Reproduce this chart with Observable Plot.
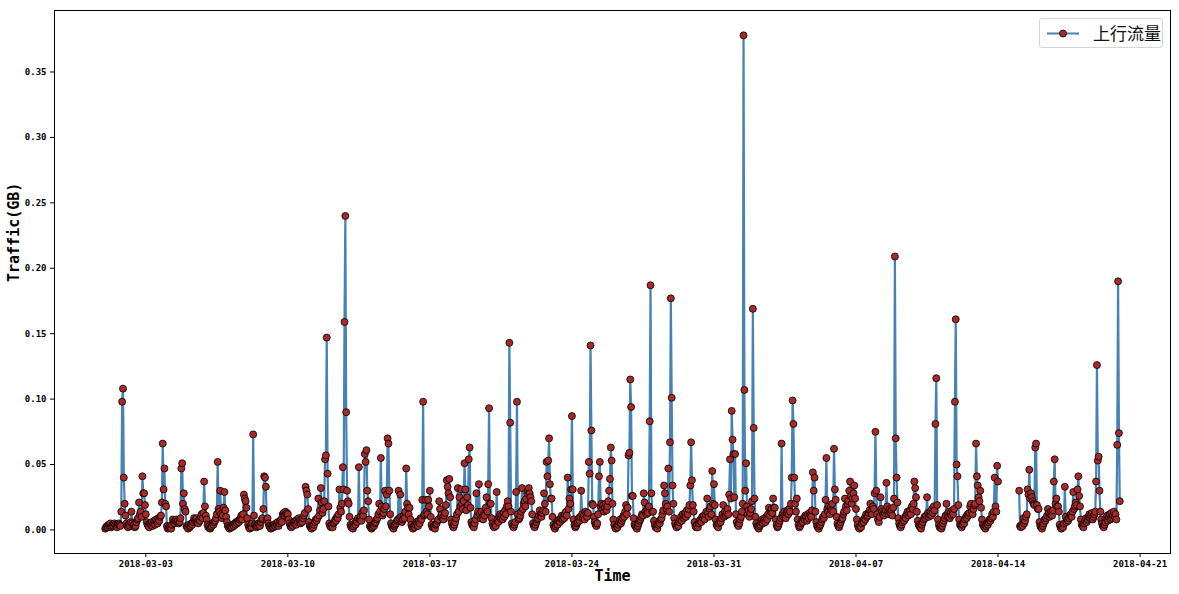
<!DOCTYPE html>
<html>
<head>
<meta charset="utf-8">
<script src="https://cdn.jsdelivr.net/npm/d3@7"></script>
<script src="https://cdn.jsdelivr.net/npm/@observablehq/plot@0.6"></script>
<style>
  html, body { margin: 0; padding: 0; background: white; }
  #wrap { position: relative; width: 1179px; height: 594px; }
  #legend { position: absolute; left: 1039px; top: 18px; width: 122px; height: 28px;
            border: 1px solid #d4d4d4; border-radius: 3px; background: rgba(255,255,255,0.85); }
  #legend svg { position: absolute; left: 0; top: 0; }
  #legend span { position: absolute; left: 53px; top: 2px; font-family: "Noto Sans CJK SC", sans-serif;
                 font-size: 17px; line-height: 24px; color: #111; }
</style>
</head>
<body>
<div id="wrap"><div id="chart"></div>
  <div id="legend"><svg width="50" height="28"><line x1="7" x2="39" y1="14.5" y2="14.5" stroke="#4682b4" stroke-width="2"/><circle cx="23" cy="14.5" r="3.5" fill="#a52a2a" stroke="black" stroke-width="0.8"/></svg><span id="legendText"></span></div>
</div>
<script>
// Series: hourly uplink traffic, in thousandths of a GB, starting 2018-03-01 00:00 (one row per day)
const seriesName = "上行流量";
const startDate = "2018-03-01T00:00:00Z";
const hourlyUplinkMilliGB = [
  1,2,3,2,4,3,5,2,3,4,3,5,4,3,2,4,5,4,3,14,98,108,40,20,
  11,5,3,2,4,3,6,14,5,3,4,2,3,6,8,9,21,12,14,10,41,28,28,19,
  12,6,4,3,2,5,4,6,3,5,7,4,8,6,5,9,7,10,11,21,66,31,47,20,
  18,3,1,2,3,2,1,4,8,6,5,7,8,6,7,5,6,9,47,51,20,28,16,14,
  3,2,1,4,2,3,5,4,6,9,7,8,9,6,5,8,7,10,12,9,13,37,18,11,
  8,4,2,3,1,2,3,5,4,6,7,9,12,52,16,14,30,12,9,11,17,29,15,10,
  6,3,2,1,2,3,2,4,3,5,4,6,5,7,6,8,9,11,8,12,27,24,22,17,
  9,4,2,1,3,2,5,73,11,4,3,2,3,5,4,3,6,8,9,16,41,40,33,8,
  9,5,3,2,1,2,3,2,4,3,5,4,6,3,5,7,8,6,12,13,11,14,12,13,
  12,8,5,3,2,4,3,6,5,7,4,8,6,9,7,5,8,6,9,11,13,33,30,27,
  16,6,3,2,1,3,2,4,6,8,7,9,24,11,15,32,21,13,16,22,54,57,147,43,
  18,5,3,2,4,2,5,6,8,7,10,9,12,31,17,14,20,48,31,159,240,90,30,22,
  20,10,4,2,3,1,3,5,4,7,6,9,48,8,10,7,13,11,15,58,52,61,30,22,
  8,3,2,1,2,4,3,5,6,8,9,12,20,14,55,18,11,13,16,30,18,27,70,66,
  30,12,5,3,2,1,3,4,5,7,8,30,9,27,10,6,8,11,9,14,47,20,17,12,
  17,8,4,2,1,3,2,4,6,5,3,7,5,9,8,23,98,11,12,23,14,12,23,18,
  30,10,4,2,3,2,1,4,5,7,8,22,16,10,12,9,8,11,13,19,38,33,28,39,
  25,8,5,3,2,4,6,9,12,32,14,25,18,31,20,16,22,51,31,15,25,19,54,63,
  17,6,4,3,2,5,8,28,11,14,35,12,9,14,10,8,12,11,17,25,14,35,93,20,
  20,9,5,3,2,4,3,29,8,6,10,12,9,11,8,13,10,15,12,18,22,18,143,82,
  14,5,3,2,4,6,29,98,12,8,9,11,14,32,16,20,22,18,24,28,30,32,28,25,
  22,12,5,3,2,4,6,8,9,11,15,12,10,13,15,28,20,14,52,41,53,70,35,24,
  24,10,4,2,1,3,5,4,7,8,6,9,11,8,10,9,12,14,11,40,16,24,20,31,
  87,31,8,4,2,3,5,6,9,7,10,30,12,9,11,8,14,12,10,13,52,43,141,76,
  20,19,10,6,4,3,5,12,41,52,18,20,16,19,14,17,20,15,18,22,30,39,63,53,
  20,8,4,2,1,3,2,4,6,8,5,7,9,11,10,14,19,12,17,57,59,115,94,26,
  26,9,4,3,2,1,3,5,7,8,10,12,11,28,21,14,12,16,13,18,83,187,28,14,
  14,7,4,2,3,1,4,6,5,8,9,12,15,34,28,20,16,18,47,14,67,177,101,34,
  20,9,5,3,2,4,3,6,8,10,7,12,9,11,13,10,15,12,16,19,34,67,38,19,
  14,6,3,2,4,2,5,7,8,6,10,9,11,8,12,14,24,13,10,16,18,12,45,20,
  35,19,8,4,3,2,5,7,6,9,12,19,10,14,11,13,16,12,27,54,24,91,69,58,
  25,58,12,6,4,3,5,8,10,14,20,378,107,30,51,18,12,15,10,13,16,22,169,78,
  24,10,5,3,2,1,3,4,6,8,5,7,9,6,10,8,12,17,11,14,16,13,24,17,
  17,8,4,2,3,5,7,9,66,12,10,14,11,9,13,15,12,16,14,20,40,99,81,40,
  20,14,24,8,4,2,3,5,7,6,9,8,11,10,7,12,9,13,11,10,15,44,30,40,
  14,6,3,2,1,3,4,6,8,10,9,12,23,55,16,14,18,12,17,15,20,14,62,31,
  23,10,5,3,2,4,6,8,9,12,14,24,18,15,20,22,30,37,26,20,24,28,34,24,
  16,8,4,2,1,3,2,5,7,6,9,8,12,10,11,13,15,20,14,12,18,16,28,75,
  30,12,8,6,10,25,16,14,12,11,13,15,36,18,14,12,16,13,15,11,17,24,209,70,
  40,21,9,5,3,2,4,6,8,7,10,9,12,14,11,13,15,12,18,16,20,37,32,25,
  14,7,4,3,2,1,4,6,8,10,9,11,25,13,10,12,14,11,16,13,18,15,81,116,
  19,8,4,2,3,1,3,5,7,9,11,20,12,10,14,9,13,11,15,12,16,98,161,50,
  41,19,8,4,3,2,4,6,5,8,10,9,12,11,13,18,20,14,12,16,19,20,66,41,
  34,25,22,30,17,8,4,3,2,1,3,5,4,6,8,7,9,12,10,14,40,18,14,49,
  37,null,null,null,null,null,null,null,null,null,null,null,null,null,null,null,null,null,null,null,null,null,null,null,
  null,30,3,2,4,3,9,5,7,10,12,31,27,46,24,28,25,22,20,19,63,66,19,16,
  16,6,3,2,1,3,5,8,7,9,11,16,13,10,12,14,11,15,37,54,20,24,18,18,
  14,4,2,1,3,2,5,33,10,6,8,7,9,11,12,10,14,29,16,18,21,19,31,41,
  26,18,8,4,3,2,5,7,9,6,8,10,12,9,11,13,8,10,12,14,37,126,53,56,
  30,14,8,5,3,2,4,6,9,11,7,10,12,8,13,9,11,14,10,12,8,65,190,74,
  22
];
const xTickLabels = ["2018-03-03","2018-03-10","2018-03-17","2018-03-24","2018-03-31","2018-04-07","2018-04-14","2018-04-21"];
const yTickValues = [0, 0.05, 0.10, 0.15, 0.20, 0.25, 0.30, 0.35];

const t0 = new Date(startDate).getTime();
const rows = hourlyUplinkMilliGB.map((v, i) => ({
  time: new Date(t0 + i * 3600e3),
  gb: v == null ? NaN : v / 1000
}));
const validRows = rows.filter(d => !isNaN(d.gb));
const xTicks = xTickLabels.map(s => new Date(s + "T00:00:00Z"));

const mono = "'DejaVu Sans Mono', monospace";
const chart = Plot.plot({
  width: 1179,
  height: 594,
  marginLeft: 54,
  marginRight: 9,
  marginTop: 10,
  marginBottom: 41,
  style: { fontFamily: mono, fontSize: "9px", fontWeight: "bold", background: "white", color: "black" },
  x: { type: "utc", domain: [new Date("2018-02-26T12:00:00Z"), new Date("2018-04-22T12:00:00Z")] },
  y: { domain: [-0.018, 0.397] },
  marks: [
    Plot.axisX({ ticks: xTicks, tickFormat: d3.utcFormat("%Y-%m-%d"), tickSize: 4, tickPadding: 3, label: null, fontSize: 9 }),
    Plot.axisY({ ticks: yTickValues, tickFormat: d3.format(".2f"), tickSize: 4, tickPadding: 4, label: null, fontSize: 9 }),
    Plot.lineY(rows, { x: "time", y: "gb", stroke: "#4682b4", strokeWidth: 2.2 }),
    Plot.dot(validRows, { x: "time", y: "gb", r: 3.5, fill: "#a52a2a", stroke: "black", strokeWidth: 0.8 }),
    Plot.frame({ stroke: "black", strokeWidth: 1 }),
    Plot.text(["Time"], { frameAnchor: "bottom", dy: 27, fontSize: 15, fontWeight: "bold", fontFamily: mono, letterSpacing: -1, fill: "black" }),
    Plot.text(["Traffic(GB)"], { frameAnchor: "left", dx: -40, rotate: -90, fontSize: 15, fontWeight: "bold", fontFamily: mono, fill: "black" })
  ]
});
document.getElementById("chart").appendChild(chart);
document.getElementById("legendText").textContent = seriesName;
</script>
</body>
</html>
